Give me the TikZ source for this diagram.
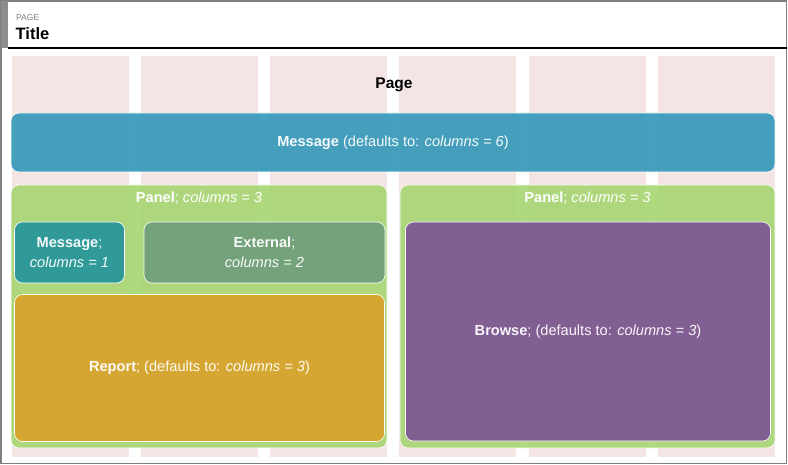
\documentclass[tikz,border=0pt]{standalone}
\usepackage{fontspec}
\setmainfont{Liberation Sans}
\usetikzlibrary{positioning}

\definecolor{colpink}{HTML}{F5E4E4}
\definecolor{msgblue}{HTML}{3C9BBA}
\definecolor{panelgreen}{HTML}{ABD778}
\definecolor{msgteal}{HTML}{2A979B}
\definecolor{extgreen}{HTML}{71A07A}
\definecolor{reportamber}{HTML}{D8A52E}
\definecolor{browsepurple}{HTML}{7F5995}
\definecolor{framegray}{HTML}{7F7F7F}

\begin{document}
\begin{tikzpicture}[
    x=1pt, y=-1pt,
    column/.style={fill=colpink, draw=none, minimum width=117pt, minimum height=401pt, inner sep=0pt},
    widget/.style={draw=white, line width=0.6pt, rounded corners=8pt, fill opacity=0.95, inner sep=0pt, text=white, align=center, font=\fontsize{14.6}{20}\selectfont},
    caption/.style={text=white, font=\fontsize{14.6}{17}\selectfont, inner sep=0pt}
]
    \useasboundingbox (0,0) rectangle (788,465);
    % frame and title bar
    \fill[white] (0,0) rectangle (788,465);
    \draw[framegray, line width=1.5pt] (1,1) rectangle (786.5,463.5);
    \fill[framegray!90] (0.5,1) rectangle (8,48);
    \draw[black, line width=1.2pt] (8,48) -- (787,48);
    \node[anchor=base west, inner sep=0pt, text=gray, font=\fontsize{8.5}{10}\selectfont] (kind) at (16,21) {PAGE};
    \node[anchor=base west, inner sep=0pt, font=\bfseries\fontsize{16.5}{19}\selectfont] (title) at (15.5,40) {Title};

    % grid columns
    \foreach \i in {0,...,5}
        \node[column, anchor=north west] (col\i) at ({11.5+129.2*\i},56) {};

    \node[anchor=base, font=\bfseries\fontsize{15.5}{18}\selectfont, inner sep=0pt] (page) at (394,88.5) {Page};

    % full width message
    \node[widget, fill=msgblue, minimum width=764pt, minimum height=59pt] (msg) at (393,142.5)
        {\textbf{Message} (defaults to: \textit{columns = 6})};

    % panels
    \node[widget, fill=panelgreen, minimum width=376pt, minimum height=263pt] (panelL) at (199,316.5) {};
    \node[widget, fill=panelgreen, minimum width=375pt, minimum height=263pt] (panelR) at (587.5,316.5) {};
    \node[caption, below=7pt of panelL.north] (panelLtxt) {\textbf{Panel}; \textit{columns = 3}};
    \node[caption, below=7pt of panelR.north] (panelRtxt) {\textbf{Panel}; \textit{columns = 3}};

    % left panel content
    \node[widget, fill=msgteal, minimum width=110pt, minimum height=61pt] (msgsmall) at (69.5,252.5)
        {\textbf{Message};\\\textit{columns = 1}};
    \node[widget, fill=extgreen, minimum width=241pt, minimum height=61pt] (external) at (264.5,252.5)
        {\textbf{External};\\\textit{columns = 2}};
    \node[widget, fill=reportamber, minimum width=370pt, minimum height=147pt] (report) at (199.5,368)
        {\textbf{Report}; (defaults to: \textit{columns = 3})};

    % right panel content
    \node[widget, fill=browsepurple, minimum width=365pt, minimum height=219pt] (browse) at (588,331.5)
        {\textbf{Browse}; (defaults to: \textit{columns = 3})};
\end{tikzpicture}
\end{document}
